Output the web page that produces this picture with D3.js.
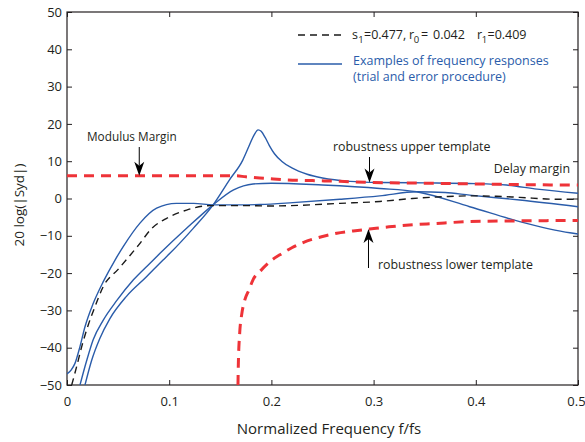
<!DOCTYPE html>
<html>
<head>
<meta charset="utf-8">
<script src="https://cdn.jsdelivr.net/npm/d3@7"></script>
<style>
  html, body { margin: 0; padding: 0; background: #fff; }
  svg { display: block; }
  text { font-family: "Open Sans", "Noto Sans", sans-serif; }
</style>
</head>
<body>
<svg id="chart" width="585" height="442"></svg>
<script>
// Axis ticks
const xTicks = [0, 0.1, 0.2, 0.3, 0.4, 0.5];
const xTickLabels = ["0", "0.1", "0.2", "0.3", "0.4", "0.5"];
const yTicks = [-50, -40, -30, -20, -10, 0, 10, 20, 30, 40, 50];

// Robustness upper template (dB)
const upperF = [0, 0.05, 0.1, 0.165, 0.175, 0.195, 0.215, 0.24, 0.267, 0.3, 0.35, 0.4, 0.45, 0.5];
const upperV = [6.1, 6.1, 6.1, 6.1, 5.8, 5.4, 5.0, 4.8, 4.6, 4.3, 4.1, 3.9, 3.7, 3.6];

// Robustness lower template (dB)
const lowerF = [0.1673, 0.1676, 0.169, 0.171, 0.174, 0.178, 0.182, 0.19, 0.2, 0.21, 0.22, 0.231, 0.25, 0.264, 0.28, 0.296, 0.315, 0.335, 0.36, 0.394, 0.44, 0.5];
const lowerV = [-50, -45, -36, -31, -27.2, -24.5, -21.8, -19.2, -16.6, -14.8, -13.2, -11.8, -10.2, -9.3, -8.7, -8.2, -7.6, -7.1, -6.7, -6.2, -6.0, -5.9];

// Chosen design: s1=0.477, r0=0.042, r1=0.409
const designF = [0.0046, 0.0095, 0.0144, 0.0208, 0.0274, 0.0355, 0.05, 0.06, 0.07, 0.083, 0.0975, 0.117, 0.14, 0.17, 0.2, 0.23, 0.267, 0.306, 0.338, 0.37, 0.394, 0.42, 0.443, 0.479, 0.5];
const designV = [-50, -45, -39.7, -33.9, -29, -23.6, -19, -15.8, -12.5, -8, -5.3, -3.1, -1.9, -1.9, -2.0, -1.8, -1.3, -0.8, 0, 0.5, 0.7, 0.6, 0.3, -0.2, -0.2];

// Trial-and-error responses
const trialAF = [0, 0.004, 0.0078, 0.0127, 0.0176, 0.0257, 0.0355, 0.047, 0.055, 0.0714, 0.0877, 0.107, 0.124, 0.143, 0.169, 0.189, 0.221, 0.267, 0.306, 0.342, 0.37, 0.394, 0.443, 0.5];
const trialAV = [-47, -46, -44.2, -39.7, -34.4, -28.1, -22.3, -16.5, -12.9, -6.6, -2.6, -1.3, -1.3, -1.7, -1.7, -1.6, -1.1, -0.2, 0.7, 1.8, 1.6, 0.9, -0.4, -2.2];

const trialBF = [0.0127, 0.0192, 0.0257, 0.0355, 0.0486, 0.065, 0.081, 0.091, 0.117, 0.143, 0.163, 0.182, 0.2, 0.25, 0.306, 0.342, 0.394, 0.443, 0.492, 0.5];
const trialBV = [-50, -43.5, -37.8, -32.6, -27.4, -21.8, -17.4, -14.7, -8, -1.7, 2.3, 3.9, 4.1, 3.6, 2.7, 1.8, -2.2, -6.2, -9.2, -9.5];

const trialCF = [0.0176, 0.024, 0.032, 0.042, 0.058, 0.077, 0.094, 0.1007, 0.1235, 0.143, 0.159, 0.172, 0.178, 0.183, 0.187, 0.19, 0.194, 0.198, 0.203, 0.21, 0.22, 0.235, 0.25, 0.277, 0.306, 0.35, 0.4, 0.43, 0.46, 0.5];
const trialCV = [-50, -43.5, -37.6, -32.2, -26.3, -21.2, -16.5, -14.7, -8, -1.7, 5, 10.3, 14, 17, 18.4, 18.0, 16.3, 14.2, 12.0, 10.0, 8.2, 6.5, 5.5, 4.6, 4.3, 4.2, 4.0, 3.6, 2.5, 1.4];

const svg = d3.select("#chart");
const plotL = 67, plotR = 578, plotT = 12, plotB = 385;

const x = d3.scaleLinear().domain([0, 0.5]).range([plotL, plotR]);
const y = d3.scaleLinear().domain([-50, 50]).range([plotB, plotT]);

svg.append("defs").append("clipPath").attr("id", "plot-clip")
  .append("rect").attr("x", plotL).attr("y", plotT).attr("width", plotR - plotL).attr("height", plotB - plotT);

const axisColor = "#231f20";
const blue = "#2a5caa";
const red = "#ee3338";

// Axes with inward ticks on all four sides
const gx = svg.append("g").attr("transform", `translate(0,${plotB})`)
  .call(d3.axisBottom(x).tickValues(xTicks).tickSize(-5).tickPadding(12).tickFormat((d, i) => xTickLabels[i]));
const gxTop = svg.append("g").attr("transform", `translate(0,${plotT})`)
  .call(d3.axisTop(x).tickValues(xTicks).tickSize(-5).tickFormat(""));
const gy = svg.append("g").attr("transform", `translate(${plotL},0)`)
  .call(d3.axisLeft(y).tickValues(yTicks).tickSize(-5).tickPadding(5).tickFormat(d => d < 0 ? "\u2212" + Math.abs(d) : String(d)));
const gyRight = svg.append("g").attr("transform", `translate(${plotR},0)`)
  .call(d3.axisRight(y).tickValues(yTicks).tickSize(-5).tickFormat(""));

[gx, gxTop, gy, gyRight].forEach(g => {
  g.select(".domain").remove();
  g.selectAll(".tick line").attr("stroke", axisColor);
  g.selectAll(".tick text").attr("fill", axisColor).style("font-size", "13px")
    .style("font-family", "'Open Sans', sans-serif");
});
// keep the last x label inside the page
gx.selectAll(".tick text").filter(d => d === 0.5).attr("dx", -2);

svg.append("rect").attr("x", plotL).attr("y", plotT).attr("width", plotR - plotL).attr("height", plotB - plotT)
  .attr("fill", "none").attr("stroke", axisColor).attr("stroke-width", 1.2);

// Curves
const line = d3.line().x(d => x(d[0])).y(d => y(d[1])).curve(d3.curveMonotoneX);
const zip = (fs, vs) => fs.map((f, i) => [f, vs[i]]);
const plot = svg.append("g").attr("clip-path", "url(#plot-clip)");

[[trialAF, trialAV], [trialBF, trialBV], [trialCF, trialCV]].forEach(([fs, vs]) => {
  plot.append("path").attr("d", line(zip(fs, vs)))
    .attr("fill", "none").attr("stroke", blue).attr("stroke-width", 1.4);
});

plot.append("path").attr("d", line(zip(designF, designV)))
  .attr("fill", "none").attr("stroke", "#1a1a1a").attr("stroke-width", 1.4).attr("stroke-dasharray", "7,5");

plot.append("path").attr("d", line(zip(upperF, upperV)))
  .attr("fill", "none").attr("stroke", red).attr("stroke-width", 3).attr("stroke-dasharray", "10,7");
plot.append("path").attr("d", line(zip(lowerF, lowerV)))
  .attr("fill", "none").attr("stroke", red).attr("stroke-width", 3).attr("stroke-dasharray", "10,7");

// Annotation arrows
function arrow(ax, yFrom, yTo) {
  const dir = yTo > yFrom ? 1 : -1;
  const headLen = 14, halfW = 5, notch = 4;
  svg.append("line").attr("x1", ax).attr("x2", ax).attr("y1", yFrom).attr("y2", yTo - dir * headLen + dir * notch)
    .attr("stroke", "#000").attr("stroke-width", 1);
  const p = d3.path();
  p.moveTo(ax, yTo);
  p.lineTo(ax - halfW, yTo - dir * headLen);
  p.lineTo(ax, yTo - dir * (headLen - notch));
  p.lineTo(ax + halfW, yTo - dir * headLen);
  p.closePath();
  svg.append("path").attr("d", p.toString()).attr("fill", "#000");
}

function label(tx, ty, str, anchor, size) {
  svg.append("text").attr("x", tx).attr("y", ty).attr("text-anchor", anchor || "start")
    .attr("fill", "#231f20").style("font-size", size || "12.4px").text(str);
}

label(87, 141, "Modulus Margin", "start", "11.8px");
arrow(x(0.0707), 147, y(6.1));

label(333, 151, "robustness upper template");
arrow(x(0.296), 157, y(4.3));

label(570, 173, "Delay margin", "end");

label(378, 269, "robustness lower template");
arrow(x(0.295), 268, y(-8.2));

// Legend
const lg = svg.append("g");
lg.append("line").attr("x1", 298).attr("x2", 342).attr("y1", 35).attr("y2", 35)
  .attr("stroke", "#1a1a1a").attr("stroke-width", 1.6).attr("stroke-dasharray", "7,5");
const t1 = lg.append("text").attr("y", 39).attr("fill", "#231f20").style("font-size", "12.5px");
const legendParts = [
  { x: 352, text: "s" }, { x: 358.3, text: "1", sub: true }, { x: 364, text: "=0.477," },
  { x: 409, text: "r" }, { x: 413.8, text: "0", sub: true }, { x: 421, text: "=" }, { x: 433, text: "0.042" },
  { x: 477, text: "r" }, { x: 481.8, text: "1", sub: true }, { x: 487.5, text: "=0.409" }
];
legendParts.forEach(p => {
  t1.append("tspan").attr("x", p.x).attr("y", p.sub ? 43 : 39)
    .style("font-size", p.sub ? "9.5px" : "12.5px").text(p.text);
});

lg.append("line").attr("x1", 298).attr("x2", 342).attr("y1", 64).attr("y2", 64)
  .attr("stroke", blue).attr("stroke-width", 1.3);
lg.append("text").attr("x", 353).attr("y", 65).attr("fill", blue).style("font-size", "12.5px")
  .text("Examples of frequency responses");
lg.append("text").attr("x", 353).attr("y", 81).attr("fill", blue).style("font-size", "12.5px")
  .text("(trial and error procedure)");

// Axis titles
svg.append("text").attr("x", 329).attr("y", 434).attr("text-anchor", "middle")
  .attr("fill", "#231f20").style("font-size", "15px").text("Normalized Frequency f/fs");
svg.append("text").attr("transform", "translate(24,205) rotate(-90)").attr("text-anchor", "middle")
  .attr("fill", "#231f20").style("font-size", "13.5px").text("20 log(|Syd|)");
</script>
</body>
</html>
